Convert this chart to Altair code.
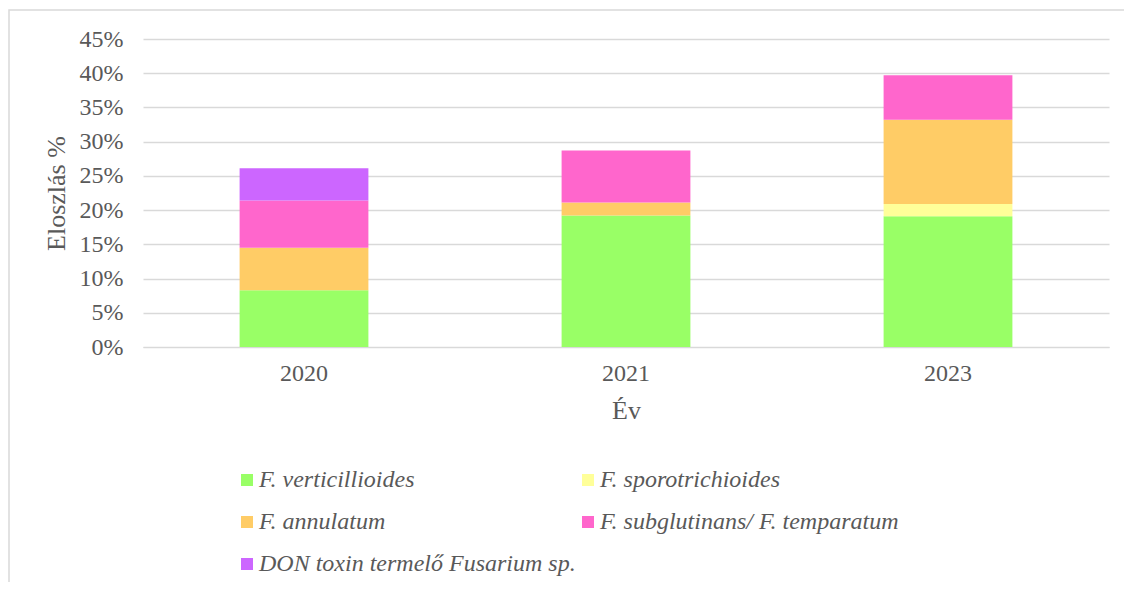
import altair as alt
import pandas as pd

years = ["2020", "2021", "2023"]
species = [
    "F. verticillioides",
    "F. sporotrichioides",
    "F. annulatum",
    "F. subglutinans/ F. temparatum",
    "DON toxin termelő Fusarium sp.",
]
colors = ["#99FF66", "#FFFF99", "#FFCC66", "#FF66CC", "#CC66FF"]

# values in percent, per species, for 2020, 2021, 2023
verticillioides = [8.3, 19.2, 19.1]
sporotrichioides = [0.0, 0.0, 1.8]
annulatum = [6.2, 1.9, 12.3]
subglutinans = [6.9, 7.6, 6.5]
don_toxin = [4.7, 0.0, 0.0]

series = [verticillioides, sporotrichioides, annulatum, subglutinans, don_toxin]
rows = []
for i, (name, vals) in enumerate(zip(species, series)):
    for y, v in zip(years, vals):
        rows.append({"Év": y, "faj": name, "idx": i, "v": v / 100.0})
df = pd.DataFrame(rows)

TXT = "#595959"
FONT = "Liberation Serif"

bars = alt.Chart(df).mark_bar().encode(
    x=alt.X("Év:N", title="Év", sort=years,
            scale=alt.Scale(paddingInner=0.6, paddingOuter=0.3),
            axis=alt.Axis(labelAngle=0, ticks=False, domain=True, domainColor="#d9d9d9",
                          labelPadding=14, titlePadding=12, grid=False)),
    y=alt.Y("v:Q", title="Eloszlás %",
            scale=alt.Scale(domain=[0, 0.45], nice=False),
            axis=alt.Axis(format=".0%", values=[i * 0.05 for i in range(10)],
                          ticks=False, domain=False, labelPadding=20, titlePadding=10,
                          gridColor="#d9d9d9", gridWidth=1.5)),
    color=alt.Color("faj:N", sort=species,
                    scale=alt.Scale(domain=species, range=colors),
                    legend=alt.Legend(title=None, orient="none", legendX=92, legendY=429,
                                      columns=2, direction="horizontal",
                                      symbolType="square", symbolSize=144,
                                      symbolStrokeWidth=0,
                                      labelFont=FONT, labelFontSize=24, labelFontStyle="italic",
                                      labelColor=TXT, labelOffset=0, labelLimit=400,
                                      columnPadding=0, rowPadding=18)),
    order=alt.Order("idx:Q", sort="ascending"),
)

border_df = pd.DataFrame({"b": [1]})
border = alt.Chart(border_df).mark_rect(fill=None, stroke="#d9d9d9", strokeWidth=1.5).encode(
    x=alt.value(-134), x2=alt.value(1000), y=alt.value(-29), y2=alt.value(600)
)

chart = alt.layer(border, bars).properties(
    width=966, height=308,
    autosize=alt.AutoSizeParams(type="none"),
    padding={"left": 135, "top": 31, "right": 15, "bottom": 235},
).configure_view(stroke=None).configure_axis(
    labelFont=FONT, labelFontSize=24, labelColor=TXT,
    titleFont=FONT, titleFontSize=26, titleColor=TXT, titleFontWeight="normal",
)

chart.save("out.html", embed_options={"renderer": "svg", "actions": False})
